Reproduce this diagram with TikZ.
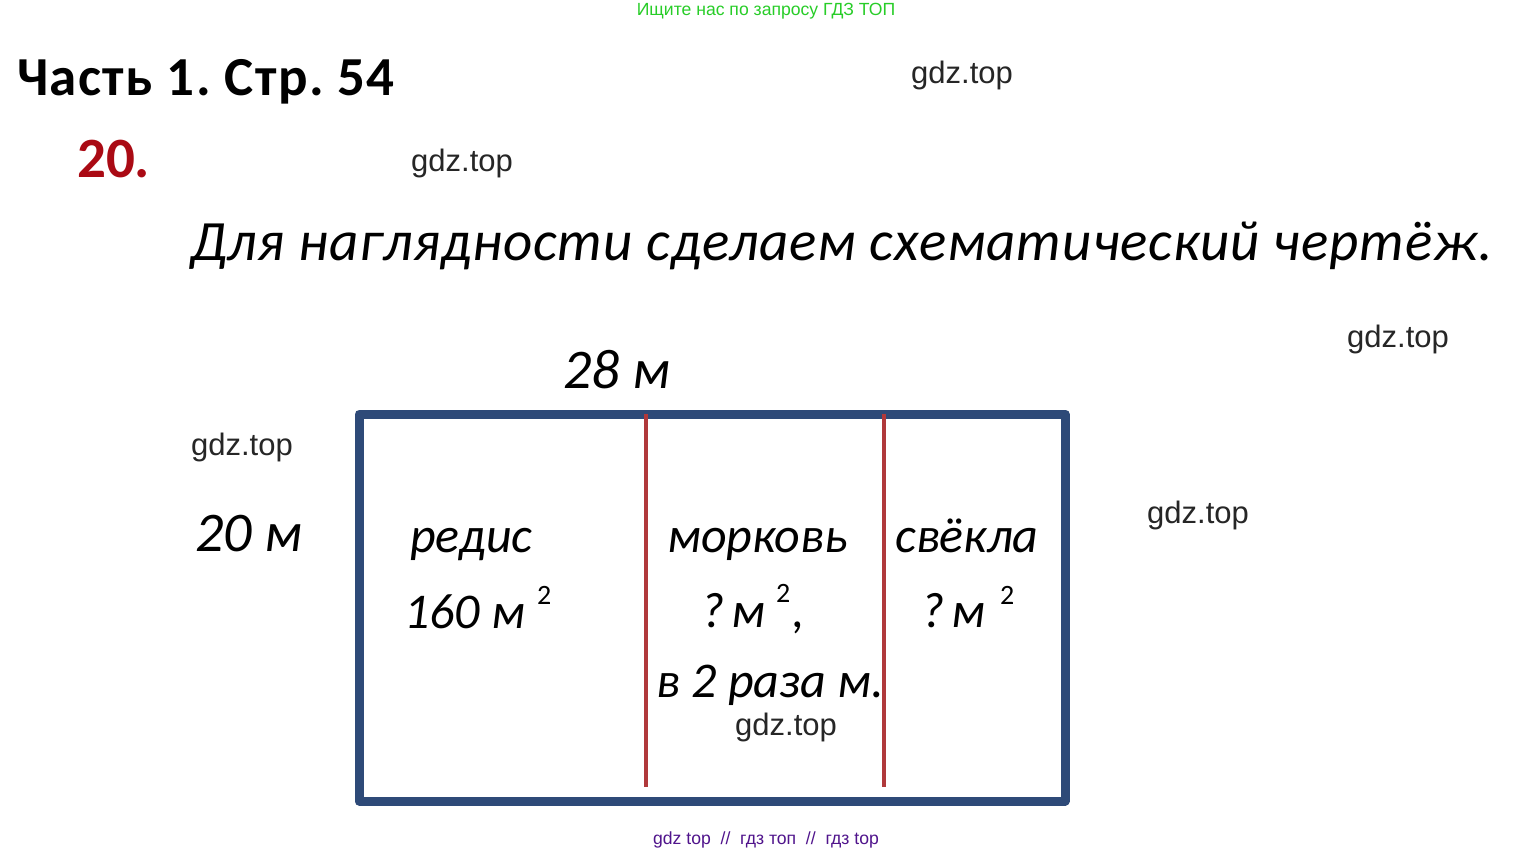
\documentclass[tikz,border=0pt]{standalone}
\usepackage{fontspec}
\setmainfont{Carlito}
\newfontfamily\wmfont{Liberation Sans}
\newfontfamily\introfont[LetterSpace=1.5]{Carlito}
\newfontfamily\titlefont[LetterSpace=2.6]{Carlito}
\definecolor{boxblue}{RGB}{46,74,120}
\definecolor{divred}{RGB}{176,57,59}
\definecolor{numred}{RGB}{170,10,20}
\definecolor{topgreen}{RGB}{40,205,40}
\definecolor{botpurple}{RGB}{80,20,140}
\tikzset{
  wm/.style={font=\wmfont\fontsize{31}{31}\selectfont, text=black!85, inner sep=0pt, anchor=center},
  hand/.style={font=\itshape\fontsize{50}{50}\selectfont, inner sep=0pt, anchor=base west},
  big/.style={font=\itshape\fontsize{56}{56}\selectfont, inner sep=0pt, anchor=base west},
  sup/.style={font=\fontsize{28}{28}\selectfont, inner sep=0pt, anchor=base west},
}
\newcommand{\qm}{?\kern-0.08em\ м}
\begin{document}
\frenchspacing
\begin{tikzpicture}[x=1pt,y=-1pt]
\useasboundingbox[fill=white] (0,0) rectangle (1534,855);
% header texts
\node[font=\wmfont\fontsize{17.6}{17.6}\selectfont, text=topgreen, inner sep=0pt] (top) at (766,11) {Ищите нас по запросу ГДЗ ТОП};
\node[font=\titlefont\bfseries\fontsize{55}{55}\selectfont, inner sep=0pt, anchor=base west] (title) at (17,95) {Часть 1. Стр. 54};
\node[font=\bfseries\fontsize{57}{57}\selectfont, text=numred, inner sep=0pt, anchor=base west] (num) at (77,177) {20.};
\node[font=\introfont\itshape\fontsize{57}{57}\selectfont, inner sep=0pt, anchor=base west] (intro) at (190,260) {Для наглядности сделаем схематический чертёж.};
% rectangle
\coordinate (tl) at (359,414);
\coordinate (br) at (1065,801);
\draw[boxblue, line width=9pt, line join=round] (tl) rectangle (br);
\coordinate (r1t) at (646,414);
\coordinate (r1b) at (646,787);
\coordinate (r2t) at (884,414);
\coordinate (r2b) at (884,787);
\draw[divred, line width=3.5pt] (r1t) -- (r1b);
\draw[divred, line width=3.5pt] (r2t) -- (r2b);
% dimension labels
\node[big] (w) at (563,388) {28 м};
\node[big] (h) at (195,551) {20 м};
% cell texts
\node[hand] (c1) at (410,552) {редис};
\node[hand] (c1a) at (404,628) {160 м};
\node[sup] (c1s) at (537,604) {2};
\node[hand] (c2) at (667,552) {морковь};
\node[hand] (c2a) at (701,627) {\qm};
\node[sup] (c2s) at (776,602) {2};
\node[hand] (c2c) at (792,627) {,};
\node[hand] (c2b) at (656,697) {в 2 раза м.};
\node[hand] (c3) at (895,552) {свёкла};
\node[hand] (c3a) at (921,627) {\qm};
\node[sup] (c3s) at (1000,604) {2};
% watermarks
\node[wm] (g1) at (962,75) {gdz.top};
\node[wm] (g2) at (462,163) {gdz.top};
\node[wm] (g3) at (1398,339) {gdz.top};
\node[wm] (g4) at (242,447) {gdz.top};
\node[wm] (g5) at (1198,515) {gdz.top};
\node[wm] (g6) at (786,727) {gdz.top};
\node[font=\wmfont\fontsize{17.6}{17.6}\selectfont, text=botpurple, inner sep=0pt] (bot) at (766,840) {gdz top\ \ //\ \ гдз топ\ \ //\ \ гдз top};
\end{tikzpicture}
\end{document}
